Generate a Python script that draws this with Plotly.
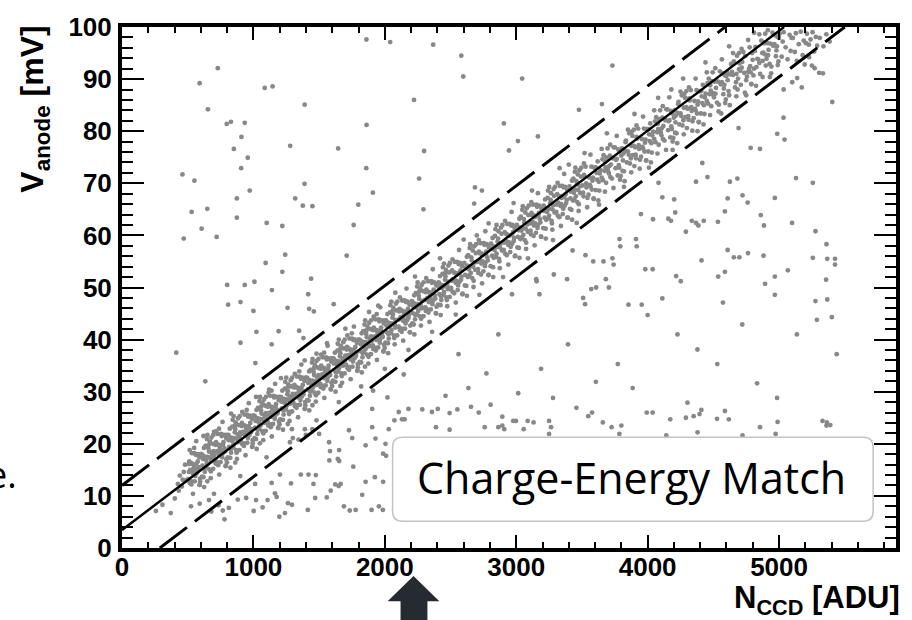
import plotly.graph_objects as go

# ---------------- data ----------------
# main correlated band (N_CCD [ADU], V_anode [mV])
band_start = [(425,12.3),(440,13.9),(455,11.8),(470,14.6),(490,13.0),(480,16.0),(432,11.0),(462,13.1)]
band_low = [
(505,13.2),(512,16.6),(520,15.0),(528,12.2),(535,16.2),(542,14.7),(550,18.2),(558,13.8),(565,16.1),(572,18.0),(580,14.9),(588,17.4),(595,12.7),(554,15.3),
(605,18.0),(612,15.8),(620,13.6),(628,17.6),(635,19.6),(642,15.6),(650,17.5),(658,19.1),(665,15.1),(672,17.4),(680,21.2),(688,16.8),(695,18.6),(646,16.2),
(705,18.3),(712,16.2),(720,19.9),(728,21.9),(735,17.9),(742,19.5),(750,16.5),(758,21.5),(765,18.1),(772,20.3),(780,19.1),(788,15.8),(795,21.7),(738,22.9),
(805,17.4),(812,20.7),(820,22.9),(828,19.0),(835,20.6),(842,24.6),(850,19.8),(858,22.2),(865,24.1),(872,18.3),(880,21.8),(888,23.6),(895,21.3),(862,16.4),
(905,20.5),(912,24.0),(920,22.3),(928,19.6),(935,23.5),(942,22.0),(950,25.6),(958,21.1),(965,23.4),(972,25.4),(980,22.2),(988,24.8),(995,20.1),(954,22.6),
(1005,25.4),(1012,23.1),(1020,20.9),(1028,24.9),(1035,26.9),(1042,22.9),(1050,24.8),(1058,26.4),(1065,22.5),(1072,24.7),(1080,28.5),(1088,24.1),(1095,25.9),(1046,23.5),
(1105,25.6),(1112,23.5),(1120,27.3),(1128,29.2),(1135,25.2),(1142,26.9),(1150,23.8),(1158,28.9),(1165,25.4),(1172,27.6),(1180,26.5),(1188,23.1),(1195,29.0),(1138,30.2),
(1205,24.7),(1212,28.1),(1220,30.2),(1228,26.4),(1235,27.9),(1242,31.9),(1250,27.2),(1258,29.5),(1265,31.4),(1272,25.7),(1280,29.1),(1288,31.0),(1295,28.7),(1262,23.8),
(1305,27.9),(1312,31.3),(1320,29.6),(1328,26.9),(1335,30.8),(1342,29.3),(1350,32.9),(1358,28.4),(1365,30.8),(1372,32.7),(1380,29.5),(1388,32.1),(1395,27.4),(1354,30.0),
(1405,32.7),(1412,30.4),(1420,28.3),(1428,32.2),(1435,34.2),(1442,30.3),(1450,32.1),(1458,33.8),(1465,29.8),(1472,32.0),(1480,35.9),(1488,31.4),(1495,33.2),(1446,30.8),
(1505,32.9),(1512,30.9),(1520,34.6),(1528,36.6),(1535,32.6),(1542,34.2),(1550,31.2),(1558,36.2),(1565,32.7),(1572,35.0),(1580,33.8),(1588,30.5),(1595,36.4),(1538,37.5),
(1605,32.1),(1612,35.4),(1620,37.5),(1628,33.7),(1635,35.2),(1642,39.2),(1650,34.5),(1658,36.8),(1665,38.8),(1672,33.0),(1680,36.4),(1688,38.3),(1695,36.0),(1662,31.1),
(1705,35.2),(1712,38.6),(1720,37.0),(1728,34.2),(1735,38.1),(1742,36.7),(1750,40.2),(1758,35.8),(1765,38.1),(1772,40.0),(1780,36.9),(1788,39.4),(1795,34.7),(1754,37.3),
(1805,40.0),(1812,37.8),(1820,35.6),(1828,39.6),(1835,41.6),(1842,37.6),(1850,39.5),(1858,41.1),(1865,37.1),(1872,39.4),(1880,43.2),(1888,38.8),(1895,40.6),(1846,38.2),
(1905,40.3),(1912,38.2),(1920,41.9),(1928,43.9),(1935,39.9),(1942,41.5),(1950,38.5),(1958,43.5),(1965,40.1),(1972,42.3),(1980,41.1),(1988,37.8),(1995,43.7),(1938,44.9),
]
band_low_2 = [
(509,14.6),(516,12.5),(524,16.3),(532,18.2),(539,14.3),(546,15.9),(554,12.8),(562,17.9),(569,14.4),(576,16.6),(584,15.5),(592,12.1),(599,18.0),(549,19.2),
(609,13.7),(616,17.1),(624,19.2),(632,15.4),(639,16.9),(646,20.9),(654,16.2),(662,18.5),(669,20.4),(676,14.7),(684,18.1),(692,20.0),(699,17.7),(649,12.8),
(709,16.9),(716,20.3),(724,18.6),(732,15.9),(739,19.8),(746,18.3),(754,21.9),(762,17.4),(769,19.8),(776,21.7),(784,18.5),(792,21.1),(799,16.4),(749,19.0),
(809,21.7),(816,19.4),(824,17.3),(832,21.2),(839,23.3),(846,19.3),(854,21.1),(862,22.8),(869,18.8),(876,21.0),(884,24.9),(892,20.4),(899,22.2),(849,19.9),
(909,21.9),(916,19.9),(924,23.6),(932,25.6),(939,21.6),(946,23.2),(954,20.2),(962,25.2),(969,21.7),(976,24.0),(984,22.8),(992,19.5),(999,25.4),(949,26.5),
(1009,21.1),(1016,24.4),(1024,26.5),(1032,22.7),(1039,24.2),(1046,28.2),(1054,23.5),(1062,25.8),(1069,27.8),(1076,22.0),(1084,25.4),(1092,27.3),(1099,25.0),(1049,20.1),
(1109,24.2),(1116,27.6),(1124,26.0),(1132,23.2),(1139,27.1),(1146,25.7),(1154,29.2),(1162,24.8),(1169,27.1),(1176,29.0),(1184,25.9),(1192,28.4),(1199,23.7),(1149,26.3),
(1209,29.0),(1216,26.8),(1224,24.6),(1232,28.6),(1239,30.6),(1246,26.6),(1254,28.5),(1262,30.1),(1269,26.1),(1276,28.4),(1284,32.2),(1292,27.8),(1299,29.6),(1249,27.2),
(1309,29.3),(1316,27.2),(1324,30.9),(1332,32.9),(1339,28.9),(1346,30.5),(1354,27.5),(1362,32.5),(1369,29.1),(1376,31.3),(1384,30.1),(1392,26.8),(1399,32.7),(1349,33.9),
(1409,28.4),(1416,31.7),(1424,33.9),(1432,30.0),(1439,31.5),(1446,35.6),(1454,30.8),(1462,33.2),(1469,35.1),(1476,29.3),(1484,32.8),(1492,34.6),(1499,32.3),(1449,27.4),
(1509,31.5),(1516,35.0),(1524,33.3),(1532,30.6),(1539,34.5),(1546,33.0),(1554,36.6),(1562,32.1),(1569,34.4),(1576,36.4),(1584,33.2),(1592,35.8),(1599,31.1),(1549,33.6),
(1609,36.4),(1616,34.1),(1624,31.9),(1632,35.9),(1639,37.9),(1646,33.9),(1654,35.8),(1662,37.4),(1669,33.5),(1676,35.7),(1684,39.5),(1692,35.1),(1699,36.9),(1649,34.5),
(1709,36.6),(1716,34.5),(1724,38.3),(1732,40.2),(1739,36.2),(1746,37.9),(1754,34.8),(1762,39.9),(1769,36.4),(1776,38.6),(1784,37.5),(1792,34.1),(1799,40.0),(1749,41.2),
(1809,35.7),(1816,39.1),(1824,41.2),(1832,37.4),(1839,38.9),(1846,42.9),(1854,38.2),(1862,40.5),(1869,42.4),(1876,36.7),(1884,40.1),(1892,42.0),(1899,39.7),(1849,34.8),
(1909,38.9),(1916,42.3),(1924,40.6),(1932,37.9),(1939,41.8),(1946,40.3),(1954,43.9),(1962,39.4),(1969,41.8),(1976,43.7),(1984,40.5),(1992,43.1),(1999,38.4),(1949,41.0),
]
band_core = [
(510,16.1),(530,12.8),(545,15.3),(560,18.0),(578,14.8),(594,13.3),
(610,17.9),(630,14.6),(645,17.2),(660,19.8),(678,16.7),(694,15.2),
(710,19.8),(730,16.4),(745,19.0),(760,21.7),(778,18.5),(794,17.0),
(810,21.6),(830,18.3),(845,20.8),(860,23.5),(878,20.3),(894,18.8),
(910,23.4),(930,20.1),(945,22.7),(960,25.3),(978,22.2),(994,20.7),
(1010,25.3),(1030,21.9),(1045,24.5),(1060,27.2),(1078,24.0),(1094,22.5),
(1110,27.1),(1130,23.7),(1145,26.3),(1160,29.0),(1178,25.8),(1194,24.3),
(1210,28.9),(1230,25.6),(1245,28.2),(1260,30.8),(1278,27.7),(1294,26.2),
(1310,30.8),(1330,27.4),(1345,30.0),(1360,32.7),(1378,29.5),(1394,28.0),
(1410,32.6),(1430,29.2),(1445,31.8),(1460,34.5),(1478,31.3),(1494,29.8),
(1510,34.4),(1530,31.1),(1545,33.7),(1560,36.3),(1578,33.2),(1594,31.7),
(1610,36.3),(1630,32.9),(1645,35.5),(1660,38.2),(1678,35.0),(1694,33.5),
(1710,38.1),(1730,34.7),(1745,37.3),(1760,40.0),(1778,36.8),(1794,35.3),
(1810,39.9),(1830,36.6),(1845,39.2),(1860,41.8),(1878,38.7),(1894,37.2),
(1910,41.8),(1930,38.4),(1945,41.0),(1960,43.7),(1978,40.5),(1994,39.0),
(2010,43.6),(2030,40.2),(2045,42.8),(2060,45.5),(2078,42.3),(2094,40.8),
(2110,45.4),(2130,42.1),(2145,44.7),(2160,47.3),(2178,44.2),(2194,42.7),
(2210,47.3),(2230,43.9),(2245,46.5),(2260,49.2),(2278,46.0),(2294,44.5),
(2310,49.1),(2330,45.7),(2345,48.3),(2360,51.0),(2378,47.8),(2394,46.3),
(2410,50.9),(2430,47.6),(2445,50.2),(2460,52.8),(2478,49.7),(2494,48.2),
]
band_edge = [
(515,18.8),(540,10.4),(565,20.5),(590,12.1),(625,11.7),(650,21.7),(675,13.4),(695,21.7),
(715,22.4),(740,14.1),(765,24.2),(790,15.7),(825,15.4),(850,25.3),(875,17.1),(895,25.3),
(915,26.1),(940,17.8),(965,27.8),(990,19.4),(1025,19.0),(1050,29.0),(1075,20.7),(1095,29.0),
(1115,29.8),(1140,21.4),(1165,31.5),(1190,23.0),(1225,22.7),(1250,32.7),(1275,24.4),(1295,32.7),
(1315,33.4),(1340,25.1),(1365,35.2),(1390,26.7),(1425,26.4),(1450,36.3),(1475,28.1),(1495,36.3),
(1515,37.1),(1540,28.8),(1565,38.8),(1590,30.4),(1625,30.0),(1650,40.0),(1675,31.7),(1695,40.0),
(1715,40.8),(1740,32.4),(1765,42.5),(1790,34.0),(1825,33.7),(1850,43.7),(1875,35.4),(1895,43.7),
(1915,44.4),(1940,36.1),(1965,46.2),(1990,37.7),(2025,37.4),(2050,47.3),(2075,39.1),(2095,47.3),
(2115,48.1),(2140,39.8),(2165,49.8),(2190,41.4),(2225,41.0),(2250,51.0),(2275,42.7),(2295,51.0),
(2315,51.8),(2340,43.4),(2365,53.5),(2390,45.0),(2425,44.7),(2450,54.6),(2475,46.4),(2495,54.7),
(2515,55.4),(2540,47.1),(2565,57.2),(2590,48.7),(2625,48.4),(2650,58.3),(2675,50.1),(2695,58.3),
(2715,59.1),(2740,50.8),(2765,60.8),(2790,52.4),(2825,52.0),(2850,62.0),(2875,53.7),(2895,62.0),
(2915,62.8),(2940,54.4),(2965,64.5),(2990,56.0),(3025,55.7),(3050,65.6),(3075,57.4),(3095,65.7),
(3115,66.4),(3140,58.1),(3165,68.1),(3190,59.7),(3225,59.4),(3250,69.3),(3275,61.1),(3295,69.3),
(3315,70.1),(3340,61.8),(3365,71.8),(3390,63.4),(3425,63.0),(3450,73.0),(3475,64.7),(3495,73.0),
(3515,73.8),(3540,65.4),(3565,75.5),(3590,67.0),(3625,66.7),(3650,76.6),(3675,68.4),(3695,76.7),
(3715,77.4),(3740,69.1),(3765,79.1),(3790,70.7),(3825,70.4),(3850,80.3),(3875,72.1),(3895,80.3),
(3915,81.1),(3940,72.8),(3965,82.8),(3990,74.4),(4025,74.0),(4050,84.0),(4075,75.7),(4095,84.0),
(4115,84.8),(4140,76.4),(4165,86.5),(4190,78.0),(4225,77.7),(4250,87.6),(4275,79.4),(4295,87.7),
(4315,88.4),(4340,80.1),(4365,90.1),(4390,81.7),(4425,81.3),(4450,91.3),(4475,83.1),(4495,91.3),
(4515,92.1),(4540,83.8),(4565,93.8),(4590,85.4),(4625,85.0),(4650,95.0),(4675,86.7),(4695,95.0),
(4715,95.8),(4740,87.4),(4765,97.5),(4790,89.0),(4825,88.7),(4850,98.6),(4875,90.4),(4895,98.7),
(4915,99.4),(4940,91.1),(4990,92.7),
]
band_mid = [
(2005,39.4),(2012,42.7),(2020,44.9),(2028,41.0),(2035,42.5),(2042,46.6),(2050,41.8),(2058,44.2),(2065,46.1),(2072,40.3),(2080,43.8),(2088,45.6),
(2105,42.5),(2112,45.9),(2120,44.3),(2128,41.5),(2135,45.5),(2142,44.0),(2150,47.5),(2158,43.1),(2165,45.4),(2172,47.3),(2180,44.2),(2188,46.7),
(2205,47.4),(2212,45.1),(2220,42.9),(2228,46.9),(2235,48.9),(2242,44.9),(2250,46.8),(2258,48.4),(2265,44.5),(2272,46.7),(2280,50.5),(2288,46.1),
(2305,47.6),(2312,45.5),(2320,49.3),(2328,51.2),(2335,47.2),(2342,48.9),(2350,45.8),(2358,50.9),(2365,47.4),(2372,49.6),(2380,48.5),(2388,45.1),
(2405,46.7),(2412,50.0),(2420,52.2),(2428,48.3),(2435,49.9),(2442,53.9),(2450,49.1),(2458,51.5),(2465,53.4),(2472,47.6),(2480,51.1),(2488,52.9),
(2505,49.9),(2512,53.3),(2520,51.6),(2528,48.9),(2535,52.8),(2542,51.3),(2550,54.9),(2558,50.4),(2565,52.8),(2572,54.7),(2580,51.5),(2588,54.1),
(2605,54.7),(2612,52.4),(2620,50.3),(2628,54.2),(2635,56.2),(2642,52.3),(2650,54.1),(2658,55.8),(2665,51.8),(2672,54.0),(2680,57.9),(2688,53.4),
(2705,54.9),(2712,52.8),(2720,56.6),(2728,58.5),(2735,54.6),(2742,56.2),(2750,53.1),(2758,58.2),(2765,54.7),(2772,56.9),(2780,55.8),(2788,52.4),
(2805,54.1),(2812,57.4),(2820,59.5),(2828,55.7),(2835,57.2),(2842,61.2),(2850,56.5),(2858,58.8),(2865,60.8),(2872,55.0),(2880,58.4),(2888,60.3),
(2905,57.2),(2912,60.6),(2920,59.0),(2928,56.2),(2935,60.1),(2942,58.7),(2950,62.2),(2958,57.8),(2965,60.1),(2972,62.0),(2980,58.9),(2988,61.4),
(3005,62.0),(3012,59.7),(3020,57.6),(3028,61.5),(3035,63.6),(3042,59.6),(3050,61.4),(3058,63.1),(3065,59.1),(3072,61.3),(3080,65.2),(3088,60.7),
(3105,62.3),(3112,60.2),(3120,63.9),(3128,65.9),(3135,61.9),(3142,63.5),(3150,60.5),(3158,65.5),(3165,62.0),(3172,64.3),(3180,63.1),(3188,59.8),
(3205,61.4),(3212,64.7),(3220,66.9),(3228,63.0),(3235,64.5),(3242,68.6),(3250,63.8),(3258,66.2),(3265,68.1),(3272,62.3),(3280,65.8),(3288,67.6),
(3305,64.5),(3312,67.9),(3320,66.3),(3328,63.5),(3335,67.5),(3342,66.0),(3350,69.5),(3358,65.1),(3365,67.4),(3372,69.3),(3380,66.2),(3388,68.7),
(3405,69.4),(3412,67.1),(3420,64.9),(3428,68.9),(3435,70.9),(3442,66.9),(3450,68.8),(3458,70.4),(3465,66.4),(3472,68.7),(3480,72.5),(3488,68.1),
]
band_mid_2 = [
(2009,43.7),(2016,41.4),(2024,39.3),(2032,43.2),(2039,45.2),(2046,41.3),(2054,43.1),(2062,44.8),(2069,40.8),(2076,43.0),(2084,46.9),(2092,42.4),
(2109,43.9),(2116,41.8),(2124,45.6),(2132,47.5),(2139,43.6),(2146,45.2),(2154,42.1),(2162,47.2),(2169,43.7),(2176,45.9),(2184,44.8),(2192,41.4),
(2209,43.1),(2216,46.4),(2224,48.5),(2232,44.7),(2239,46.2),(2246,50.2),(2254,45.5),(2262,47.8),(2269,49.8),(2276,44.0),(2284,47.4),(2292,49.3),
(2309,46.2),(2316,49.6),(2324,48.0),(2332,45.2),(2339,49.1),(2346,47.7),(2354,51.2),(2362,46.8),(2369,49.1),(2376,51.0),(2384,47.9),(2392,50.4),
(2409,51.0),(2416,48.7),(2424,46.6),(2432,50.5),(2439,52.6),(2446,48.6),(2454,50.4),(2462,52.1),(2469,48.1),(2476,50.3),(2484,54.2),(2492,49.7),
(2509,51.3),(2516,49.2),(2524,52.9),(2532,54.9),(2539,50.9),(2546,52.5),(2554,49.5),(2562,54.5),(2569,51.1),(2576,53.3),(2584,52.1),(2592,48.8),
(2609,50.4),(2616,53.7),(2624,55.9),(2632,52.0),(2639,53.5),(2646,57.6),(2654,52.8),(2662,55.2),(2669,57.1),(2676,51.3),(2684,54.8),(2692,56.6),
(2709,53.5),(2716,56.9),(2724,55.3),(2732,52.5),(2739,56.5),(2746,55.0),(2754,58.5),(2762,54.1),(2769,56.4),(2776,58.3),(2784,55.2),(2792,57.7),
(2809,58.4),(2816,56.1),(2824,53.9),(2832,57.9),(2839,59.9),(2846,55.9),(2854,57.8),(2862,59.4),(2869,55.5),(2876,57.7),(2884,61.5),(2892,57.1),
(2909,58.6),(2916,56.5),(2924,60.3),(2932,62.2),(2939,58.2),(2946,59.9),(2954,56.8),(2962,61.9),(2969,58.4),(2976,60.6),(2984,59.5),(2992,56.1),
(3009,57.7),(3016,61.0),(3024,63.2),(3032,59.3),(3039,60.9),(3046,64.9),(3054,60.1),(3062,62.5),(3069,64.4),(3076,58.6),(3084,62.1),(3092,63.9),
(3109,60.9),(3116,64.3),(3124,62.6),(3132,59.9),(3139,63.8),(3146,62.3),(3154,65.9),(3162,61.4),(3169,63.7),(3176,65.7),(3184,62.5),(3192,65.1),
(3209,65.7),(3216,63.4),(3224,61.3),(3232,65.2),(3239,67.2),(3246,63.3),(3254,65.1),(3262,66.8),(3269,62.8),(3276,65.0),(3284,68.9),(3292,64.4),
(3309,65.9),(3316,63.8),(3324,67.6),(3332,69.5),(3339,65.6),(3346,67.2),(3354,64.1),(3362,69.2),(3369,65.7),(3376,67.9),(3384,66.8),(3392,63.4),
(3409,65.1),(3416,68.4),(3424,70.5),(3432,66.7),(3439,68.2),(3446,72.2),(3454,67.5),(3462,69.8),(3469,71.7),(3476,66.0),(3484,69.4),(3492,71.3),
]
band_high = [
(3505,69.6),(3512,67.5),(3520,71.3),(3528,73.2),(3535,69.2),(3550,67.8),(3565,69.4),(3580,70.5),(3588,67.1),(3595,73.0),
(3605,68.7),(3612,72.0),(3620,74.2),(3628,70.3),(3635,71.9),(3650,71.1),(3665,75.4),(3680,73.1),(3688,74.9),(3695,72.7),
(3705,71.9),(3712,75.3),(3720,73.6),(3728,70.9),(3735,74.8),(3750,76.9),(3765,74.7),(3780,73.5),(3788,76.1),(3795,71.4),
(3805,76.7),(3812,74.4),(3820,72.3),(3828,76.2),(3835,78.2),(3850,76.1),(3865,73.8),(3880,79.9),(3888,75.4),(3895,77.2),
(3905,76.9),(3912,74.8),(3920,78.6),(3928,80.5),(3935,76.6),(3950,75.1),(3965,76.7),(3980,77.8),(3988,74.4),(3995,80.4),
(4005,76.1),(4012,79.4),(4020,81.5),(4028,77.7),(4035,79.2),(4050,78.5),(4065,82.7),(4080,80.4),(4088,82.3),(4095,80.0),
(4105,79.2),(4112,82.6),(4120,81.0),(4128,78.2),(4135,82.1),(4150,84.2),(4165,82.1),(4180,80.9),(4188,83.4),(4195,78.7),
(4205,84.0),(4212,81.7),(4220,79.6),(4228,83.5),(4235,85.6),(4250,83.4),(4265,81.1),(4280,87.2),(4288,82.7),(4295,84.6),
(4305,84.3),(4312,82.2),(4320,85.9),(4328,87.9),(4335,83.9),(4350,82.5),(4365,84.0),(4380,85.1),(4388,81.8),(4395,87.7),
(4405,83.4),(4412,86.7),(4420,88.9),(4428,85.0),(4435,86.5),(4450,85.8),(4465,90.1),(4480,87.8),(4488,89.6),(4495,87.3),
]
band_high_2 = [
(3509,68.2),(3516,71.6),(3532,70.0),(3542,67.2),(3556,71.1),(3560,69.7),(3572,73.2),(3576,68.8),(3584,71.1),(3599,73.0),
(3609,73.0),(3616,70.7),(3632,68.6),(3642,72.5),(3656,74.6),(3660,70.6),(3672,72.4),(3676,74.1),(3684,70.1),(3699,72.3),
(3709,73.3),(3716,71.2),(3732,74.9),(3742,76.9),(3756,72.9),(3760,74.5),(3772,71.5),(3776,76.5),(3784,73.0),(3799,75.3),
(3809,72.4),(3816,75.7),(3832,77.9),(3842,74.0),(3856,75.5),(3860,79.6),(3872,74.8),(3876,77.2),(3884,79.1),(3899,73.3),
(3909,75.5),(3916,78.9),(3932,77.3),(3942,74.5),(3956,78.5),(3960,77.0),(3972,80.5),(3976,76.1),(3984,78.4),(3999,80.3),
(4009,80.4),(4016,78.1),(4032,75.9),(4042,79.9),(4056,81.9),(4060,77.9),(4072,79.8),(4076,81.4),(4084,77.4),(4099,79.7),
(4109,80.6),(4116,78.5),(4132,82.3),(4142,84.2),(4156,80.2),(4160,81.9),(4172,78.8),(4176,83.9),(4184,80.4),(4199,82.6),
(4209,79.7),(4216,83.0),(4232,85.2),(4242,81.3),(4256,82.9),(4260,86.9),(4272,82.1),(4276,84.5),(4284,86.4),(4299,80.6),
(4309,82.9),(4316,86.3),(4332,84.6),(4342,81.9),(4356,85.8),(4360,84.3),(4372,87.9),(4376,83.4),(4384,85.7),(4399,87.7),
(4409,87.7),(4416,85.4),(4432,83.3),(4442,87.2),(4456,89.2),(4460,85.3),(4472,87.1),(4476,88.8),(4484,84.8),(4499,87.0),
]
band_top = [
(4505,86.5),(4520,88.3),(4528,85.5),(4535,89.5),(4550,91.5),(4565,89.4),(4580,88.2),(4588,90.7),(4595,86.1),
(4605,91.4),(4620,86.9),(4628,90.9),(4635,92.9),(4650,90.8),(4665,88.4),(4680,94.5),(4688,90.1),(4695,91.9),
(4705,91.6),(4720,93.3),(4728,95.2),(4735,91.2),(4750,89.8),(4765,91.4),(4780,92.5),(4788,89.1),(4795,95.0),
(4805,90.7),(4820,96.2),(4828,92.3),(4835,93.9),(4850,93.1),(4865,97.4),(4880,95.1),(4888,96.9),(4895,94.7),
(4905,93.9),(4920,95.6),(4928,92.9),(4935,96.8),(4950,98.9),(4965,96.7),(4980,95.5),(4988,98.1),(4995,93.4),
(5005,98.7),(5020,94.3),(5028,97.2),(5035,99.0),(5050,96.1),(5065,93.8),(5080,98.5),(5088,95.4),(5095,97.9),
(5105,97.9),(5120,95.2),(5128,98.8),(5135,93.5),(5150,96.7),(5165,99.1),(5180,94.6),(5188,97.4),(5195,92.8),
(5205,96.9),(5212,98.7),(5228,94.2),(5240,97.6),(5255,99.0),(5268,95.3),(5280,98.1),(5290,96.4),
(5310,97.9),(5338,96.3),(5360,98.6),(5385,97.2),
(4509,89.5),(4516,87.2),(4542,85.1),(4556,89.0),(4572,91.1),(4576,87.1),(4584,88.9),(4599,90.6),
(4609,89.8),(4616,87.7),(4642,91.4),(4656,93.4),(4672,89.4),(4676,91.0),(4684,88.0),(4699,93.0),
(4709,88.9),(4716,92.2),(4742,94.4),(4756,90.5),(4772,92.0),(4776,96.1),(4784,91.3),(4799,93.7),
(4809,92.0),(4816,95.4),(4842,93.8),(4856,91.0),(4872,95.0),(4876,93.5),(4884,97.0),(4899,92.6),
(4909,96.9),(4916,94.6),(4942,92.4),(4956,96.4),(4972,98.4),(4976,94.4),(4984,96.3),(4999,97.9),
]
halo = [
(620,21.5),(830,25.8),(1020,29.0),(1210,32.6),(1390,36.0),(1560,39.3),(1700,42.1),(1880,45.3),(2080,49.0),(2230,52.1),
(2420,55.6),(2600,59.2),(2790,62.3),(2980,66.2),(3120,68.6),(3330,72.9),(3520,75.8),(3690,79.6),(3900,83.3),(4080,86.4),
(4270,90.1),(4440,93.2),(4620,96.3),(4810,98.9),(700,22.3),(1120,30.4),(1480,37.3),(1950,46.5),(2700,60.0),(3400,73.6),(4180,88.0),
(700,10.4),(900,13.8),(1100,17.4),(1300,21.1),(1480,24.5),(1650,28.0),(1820,31.0),(2000,34.4),(2180,38.0),(2360,41.5),
(2540,44.8),(2720,48.6),(2900,52.0),(3090,55.6),(3280,59.1),(3460,62.4),(3630,65.9),(3820,69.3),(4010,73.0),(4190,76.4),
(4380,80.0),(4560,83.4),(4750,86.9),(4930,90.4),(5100,89.4),(5250,92.6),
]
# scattered background events
out_upper_left = [
(729,92.1),(591,89.2),(654,84.2),(797,81.4),(829,81.8),(934,81.6),(909,78.9),(851,76.6),(957,74.9),(907,72.9),
(460,71.7),(551,70.5),(972,68.6),(874,67.1),(1318,67.1),(530,64.5),(649,65.1),(874,63.4),(606,61.3),(1101,62.4),
(1220,61.8),(470,59.4),(720,59.7),(1242,56.3),(1093,54.7),(1220,53.0),(800,50.5),(934,50.5),(1008,51.1),(1141,49.5),
(808,46.7),(902,47.2),(1000,45.5),(1260,46.1),(1086,88.3),(1146,88.6),(1280,77.2),
(1861,81.2),(1645,76.7),(1859,72.9),(1389,69.9),(1909,68.2),(1376,65.7),(1449,65.6),(1798,65.9),(1763,62.0),
(1710,56.1),(1439,51.7),(1417,48.7),(1611,46.8),
(413,37.5),(634,32.0),(902,39.4),(1015,35.5),(1023,41.5),(1139,39.1),(1192,41.6),(1348,41.7),(1424,45.9),(1460,45.4),(1381,40.3),
(1860,97.6),(2041,97.1),(2368,96.6),(2582,94.5),(2597,90.5),(3045,90.1),(3732,92.6),(1390,85.1),(2222,86.0),(2906,81.5),
(3477,84.1),(3652,85.2),(3165,79.0),(3013,78.1),(2945,76.3),(2299,76.2),(2261,70.9),(2294,65.0),(2686,69.2),(2739,68.6),(2680,66.1),
]
out_lower_left = [
(258,7.1),(308,8.3),(371,6.7),(402,9.5),(525,8.0),(591,8.5),(662,9.2),(680,7.0),(735,8.2),(780,5.5),(813,7.7),(767,7.2),
(881,9.3),(945,9.6),(1020,9.2),(1002,7.1),(1070,7.8),(1108,9.2),(1164,10.5),(1177,9.8),(1197,6.0),(1240,6.7),(1263,8.6),
(1293,8.3),(1013,12.3),(1139,12.5),(1202,14.1),(1286,12.4),(1361,14.1),(1419,14.1),(1414,7.3),(1457,12.3),(1475,14.0),
(1399,21.7),(1449,22.8),(1500,21.9),(1576,20.3),(1583,18.6),(1642,17.1),(1652,18.8),(1578,16.8),(1652,16.7),(1760,15.6),
(1828,10.2),(1854,12.7),(1924,13.6),(1987,12.7),(1985,7.3),(1899,7.3),(1955,8.0),(1778,7.3),(1733,7.2),(1689,8.0),
(1470,9.6),(1558,9.7),(1588,11.0),(1623,12.2),(1649,11.9),(1664,12.3),(1278,20.3),(1293,22.8),(1343,20.8),(1392,22.8),
(1727,22.6),(1752,21.1),(1854,19.7),(1904,23.2),(1929,21.0),(2005,20.0),(1987,18.1),(2010,17.7),(2030,22.8),(1911,30.2),
(1904,26.7),(2020,28.9),(2073,24.5),(2131,24.7),(2144,33.3),(2106,26.1),
]
out_right = [
(4416,73.9),(4455,71.2),(4368,70.3),(4626,70.3),(4683,70.9),(4784,76.8),(4855,76.6),(5034,82.6),(4986,79.5),(5042,78.4),
(4692,80.6),(5405,85.6),(5334,91.1),(5305,91.2),(5271,92.1),(5173,88.4),(5138,90.2),(5035,88.0),(5227,96.6),(5129,71.0),
(5257,70.1),(4968,67.2),(4722,67.7),(4761,66.3),(4609,67.1),(4588,64.6),(4861,63.9),(4885,61.9),(5099,62.4),(5277,60.8),
(4535,62.6),(4427,62.8),(4336,62.8),(4368,62.4),(4386,61.9),(4291,60.7),(4112,67.3),(4202,66.9),(4210,64.4),(4157,63.2),
(4178,62.8),(3949,64.1),(4041,63.1),(4083,70.1),(3786,59.3),(3911,59.3),(3917,57.9),(3792,57.9),(4609,57.2),(4656,55.8),
(4698,55.8),(4764,56.6),(4882,56.1),(4410,55.2),(5257,55.7),(5367,55.5),(5426,55.5),(5361,58.3),(5426,54.4),(3429,57.1),
(3527,56.2),(3586,55.0),(3664,55.0),(3732,55.6),(3741,54.4),(3982,53.5),(4038,53.5),(4217,52.2),(4252,51.2),(4537,52.1),
(4588,53.0),(4968,52.1),(5067,53.3),(4894,50.7),(5358,51.5),(5277,47.4),(5367,47.7),(4968,48.6),(4573,47.1),(4112,47.9),
(3955,46.7),(3854,46.7),(3682,51.6),(3705,50.0),(3608,50.0),(3571,49.7),(3387,51.6),(3286,52.5),(3152,51.6),(3155,51.2),
(3509,48.0),(3524,46.8),(2968,48.7),(3177,48.7),
(2462,29.2),(2636,30.7),(2773,33.5),(3015,29.7),(3189,34.4),(3394,39.1),(3606,31.9),(3773,35.3),(4000,44.7),(4227,41.0),
(4379,38.1),(4530,35.3),(4720,42.9),(4833,31.6),(5136,41.0),(5288,43.8),(4303,27.9),(4985,28.8),(5364,24.1),(3659,24.1),
(2561,37.2),(2864,41.0),(3280,28.8),(3886,30.7),(5439,37.2),(5402,44.3),
]
out_bottom = [
(2180,26.7),(2285,26.6),(2359,26.1),(2403,26.7),(2493,25.9),(2552,26.6),(2656,27.1),(2715,26.0),(2805,27.5),(2894,25.2),
(2998,24.4),(3087,24.4),(3250,24.4),(3265,23.2),(3458,26.9),(3548,25.3),(3577,26.0),(3726,23.2),(3800,23.5),(3785,21.9),
(3993,26.0),(4038,26.0),(4172,24.7),(4291,25.0),(4350,25.3),(4395,25.7),(4409,26.5),(4528,24.8),(4588,26.3),(4618,24.7),
(4855,23.2),(4989,24.2),(4974,21.9),(5331,24.4),(5361,23.5),(5390,23.6),(2151,24.7),(2389,23.2),(2493,22.7),(2760,23.2),
(2864,23.2),(2894,23.5),(2909,22.8),(2977,24.4),(3057,22.8),(3132,24.1),(3250,21.9),(4142,21.6),(4380,22.2),(4722,21.6),
]

# fitted line and the +/- selection window (end points)
fit_x = [0, 5038]
fit_y = [3.45, 100]
upper_x = [0, 4590]
upper_y = [12.0, 100]
lower_x = [288, 5500]
lower_y = [0, 100]

x_range = [0, 5890]
y_range = [0, 100]
x_title = "N<sub>CCD</sub> [ADU]"
y_title = "V<sub>anode</sub> [mV]"
box_text = "Charge-Energy Match"
side_text = "e."

# ---------------- figure ----------------
pts = band_start + band_low + band_low_2 + band_core + band_edge + band_mid + band_mid_2 + \
      band_high + band_high_2 + band_top + halo + out_upper_left + out_lower_left + out_right + out_bottom
px = [p[0] for p in pts]
py = [p[1] for p in pts]

fig = go.Figure()
fig.add_trace(go.Scatter(x=px, y=py, mode="markers",
                         marker=dict(size=4.8, color="#888888", line=dict(width=0)),
                         hoverinfo="skip", cliponaxis=True))
dash = "34px,10px"
fig.add_trace(go.Scatter(x=upper_x, y=upper_y, mode="lines",
                         line=dict(color="black", width=3, dash=dash)))
fig.add_trace(go.Scatter(x=lower_x, y=lower_y, mode="lines",
                         line=dict(color="black", width=3, dash=dash)))
fig.add_trace(go.Scatter(x=fit_x, y=fit_y, mode="lines",
                         line=dict(color="black", width=2.5)))

L, R, T, B = 122, 900, 15.4, 548.4
W, H = R - L, B - T
def pxx(v):
    return (v - L) / W
def pyy(v):
    return (B - v) / H

tickfont = dict(family="Liberation Sans, Arial, sans-serif", size=26, color="black", weight="bold")
fig.update_layout(
    width=912, height=620, autosize=False,
    margin=dict(l=L, r=912 - R, t=T, b=620 - B),
    paper_bgcolor="white", plot_bgcolor="white",
    showlegend=False,
    xaxis=dict(range=x_range, dtick=1000, showgrid=False, zeroline=False,
               showline=True, linecolor="black", linewidth=4, mirror="allticks",
               ticks="inside", ticklen=13, tickwidth=1.5, tickcolor="black",
               minor=dict(dtick=200, ticks="inside", ticklen=6, tickwidth=1.5, tickcolor="black"),
               tickfont=tickfont, ticklabelstandoff=-7),
    yaxis=dict(range=y_range, dtick=10, showgrid=False, zeroline=False,
               showline=True, linecolor="black", linewidth=4, mirror="allticks",
               ticks="inside", ticklen=22, tickwidth=1.5, tickcolor="black",
               minor=dict(dtick=2, ticks="inside", ticklen=11, tickwidth=1.5, tickcolor="black"),
               tickfont=tickfont, ticklabelstandoff=1),
)

r = 10
x0, x1, yt, yb = 394, 877, 435, 521
path = (f"M {pxx(x0+r)},{pyy(yt)} L {pxx(x1-r)},{pyy(yt)} Q {pxx(x1)},{pyy(yt)} {pxx(x1)},{pyy(yt+r)} "
        f"L {pxx(x1)},{pyy(yb-r)} Q {pxx(x1)},{pyy(yb)} {pxx(x1-r)},{pyy(yb)} "
        f"L {pxx(x0+r)},{pyy(yb)} Q {pxx(x0)},{pyy(yb)} {pxx(x0)},{pyy(yb-r)} "
        f"L {pxx(x0)},{pyy(yt+r)} Q {pxx(x0)},{pyy(yt)} {pxx(x0+r)},{pyy(yt)} Z")
arrow = (f"M {pxx(415)},{pyy(577)} L {pxx(441)},{pyy(603)} L {pxx(429)},{pyy(603)} "
         f"L {pxx(429)},{pyy(625)} L {pxx(402)},{pyy(625)} L {pxx(402)},{pyy(603)} "
         f"L {pxx(389)},{pyy(603)} Z")
fig.update_layout(shapes=[
    dict(type="path", xref="paper", yref="paper", path=path, fillcolor="white",
         line=dict(color="#c4c4c4", width=1.5), layer="above"),
    dict(type="path", xref="paper", yref="paper", path=arrow, fillcolor="#262b32",
         line=dict(width=0), layer="above"),
])

fig.add_annotation(xref="paper", yref="paper", x=pxx(634), y=pyy(476), text=box_text,
                   showarrow=False, xanchor="center", yanchor="middle",
                   font=dict(family="Open Sans, sans-serif", size=43, color="black"))
fig.add_annotation(xref="paper", yref="paper", x=pxx(18), y=pyy(473), text=side_text,
                   showarrow=False, xanchor="right", yanchor="middle",
                   font=dict(family="Open Sans, sans-serif", size=36, color="black"))
fig.add_annotation(xref="paper", yref="paper", x=pxx(34), y=pyy(12), text=y_title,
                   showarrow=False, xanchor="center", yanchor="top", textangle=-90,
                   font=dict(family="Liberation Sans, Arial, sans-serif", size=32, color="black", weight="bold"))
fig.add_annotation(xref="paper", yref="paper", x=pxx(906), y=pyy(579), text=x_title,
                   showarrow=False, xanchor="right", yanchor="top",
                   font=dict(family="Liberation Sans, Arial, sans-serif", size=31, color="black", weight="bold"))

fig.write_html("out.html")
